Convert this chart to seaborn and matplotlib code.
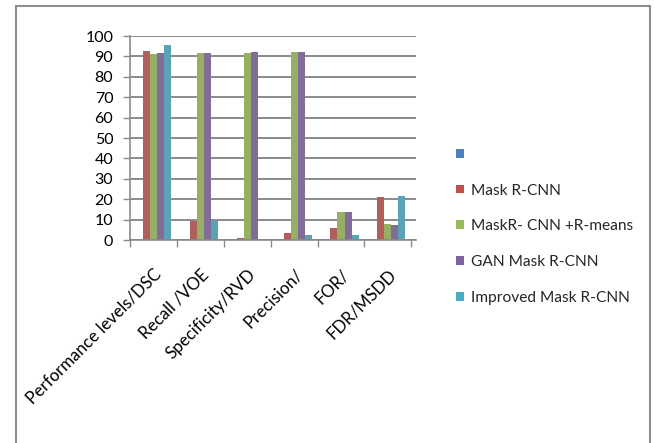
import matplotlib
matplotlib.use("Agg")
import matplotlib.pyplot as plt
from matplotlib.patches import Patch
from matplotlib.lines import Line2D
import seaborn as sns
import pandas as pd

categories = ["Performance levels/DSC", "Recall /VOE", "Specificity/RVD",
              "Precision/", "FOR/", "FDR/MSDD"]
series_names = [" ", "Mask R-CNN", "MaskR- CNN +R-means",
                "GAN Mask R-CNN", "Improved Mask R-CNN"]

blank_vals    = [0.0, 0.0, 0.0, 0.3, 0.3, 0.0]
mask_rcnn     = [92.5, 9.5, 1.0, 3.5, 6.0, 21.0]
mask_rmeans   = [91.0, 91.8, 91.8, 92.3, 13.5, 8.0]
gan_mask_rcnn = [91.5, 91.8, 92.0, 92.3, 13.5, 7.3]
improved_mask = [95.5, 9.5, 0.7, 2.5, 2.5, 21.8]

series_values = [blank_vals, mask_rcnn, mask_rmeans, gan_mask_rcnn, improved_mask]
colors = ["#4F81BD", "#C0504D", "#9BBB59", "#8064A2", "#4BACC6"]
y_ticks = list(range(0, 101, 10))

rows = []
for name, vals in zip(series_names, series_values):
    for cat, v in zip(categories, vals):
        rows.append({"category": cat, "series": name, "value": v})
df = pd.DataFrame(rows)

sns.set_theme(style="white")
plt.rcParams["font.family"] = ["Lato", "DejaVu Sans"]

W, H = 655, 443
fig = plt.figure(figsize=(W / 100, H / 100), dpi=100)
ax = fig.add_axes([130 / W, (H - 240) / H, 286 / W, 204 / H])

sns.barplot(data=df, x="category", y="value", hue="series",
            order=categories, hue_order=series_names,
            palette=colors, width=0.75, ax=ax, legend=False,
            edgecolor="none", linewidth=0)

grid_c = "#8a8a8a"
ax.set_xlim(-0.5, 5.6)
ax.set_ylim(0, 100)
ax.set_yticks(y_ticks)
ax.set_yticklabels([str(t) for t in y_ticks])
ax.yaxis.grid(True, color=grid_c, linewidth=1.4)
ax.set_axisbelow(True)
ax.set_xlabel("")
ax.set_ylabel("")

for side in ["top", "right"]:
    ax.spines[side].set_visible(False)
for side in ["left", "bottom"]:
    ax.spines[side].set_color(grid_c)
    ax.spines[side].set_linewidth(1.2)

ax.tick_params(axis="y", which="major", left=True, length=5, width=1,
               color=grid_c, pad=7, labelsize=11.5, labelcolor="#000000")
ax.set_xticks(range(len(categories)))
ax.set_xticks([i - 0.5 for i in range(len(categories) + 1)], minor=True)
ax.tick_params(axis="x", which="major", bottom=False, length=0, pad=19,
               labelsize=12.2, labelcolor="#000000")
ax.tick_params(axis="x", which="minor", bottom=True, length=5, width=1,
               color=grid_c)
ax.set_xticklabels(categories, rotation=45, ha="right",
                   rotation_mode="anchor")

handles = [Patch(facecolor=c, edgecolor="none") for c in colors]
fig.legend(handles, series_names, loc="upper left",
           bbox_to_anchor=(448 / W, 1 - 140 / H), frameon=False,
           fontsize=11.2, labelspacing=1.4, handlelength=0.5,
           handleheight=0.5, handletextpad=0.45, borderpad=0)

# chart frame on the left, top and right
frame_c = "#8c8c8c"
x0, x1, y0 = 15.5 / W, 649.5 / W, 1 - 5.7 / H
fig.add_artist(Line2D([x0, x0], [0, y0], color=frame_c, linewidth=1.5,
                      transform=fig.transFigure))
fig.add_artist(Line2D([x0, x1], [y0, y0], color=frame_c, linewidth=1.5,
                      transform=fig.transFigure))
fig.add_artist(Line2D([x1, x1], [y0, 0], color=frame_c, linewidth=1.5,
                      transform=fig.transFigure))

fig.savefig("out.png", dpi=100)
